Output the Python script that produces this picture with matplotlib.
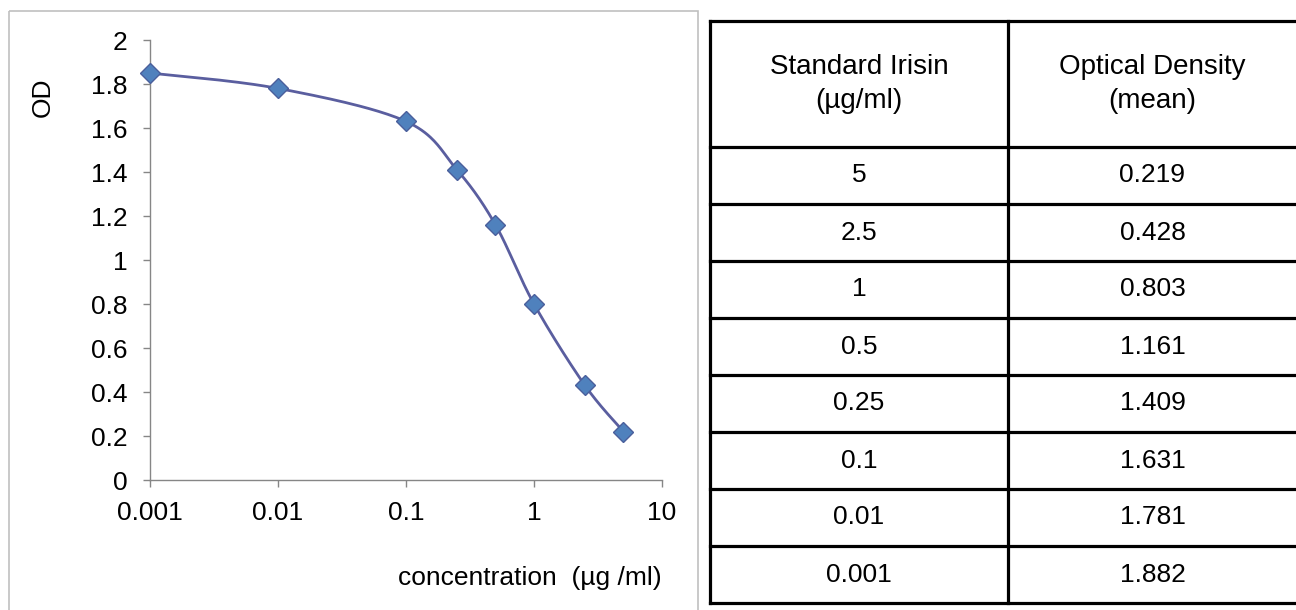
import numpy as np
import matplotlib
matplotlib.use("Agg")
import matplotlib.pyplot as plt
from matplotlib.patches import Rectangle

# standard curve as plotted
conc = [0.001, 0.01, 0.1, 0.25, 0.5, 1, 2.5, 5]
od = [1.85, 1.78, 1.63, 1.41, 1.16, 0.80, 0.43, 0.22]

# table next to the chart
header = ["Standard Irisin\n(µg/ml)", "Optical Density\n(mean)"]
table_conc = ["5", "2.5", "1", "0.5", "0.25", "0.1", "0.01", "0.001"]
table_od = ["0.219", "0.428", "0.803", "1.161", "1.409", "1.631", "1.781", "1.882"]

xticks = [0.001, 0.01, 0.1, 1, 10]
xticklabels = ["0.001", "0.01", "0.1", "1", "10"]
yticks = [0, 0.2, 0.4, 0.6, 0.8, 1, 1.2, 1.4, 1.6, 1.8, 2]
yticklabels = ["0", "0.2", "0.4", "0.6", "0.8", "1", "1.2", "1.4", "1.6", "1.8", "2"]

plt.rcParams["font.family"] = ["Liberation Sans", "DejaVu Sans"]

W, H = 1296, 610
AXIS_GRAY = "#868686"
FS = 19


def smooth(xs, ys, n=40):
    # excel style bezier smoothing, done in (log x, y) space
    pts = np.column_stack([np.log10(xs), ys])
    p = np.vstack([pts[0], pts, pts[-1]])
    t = np.linspace(0, 1, n)[:, None]
    segs = []
    for i in range(1, len(p) - 2):
        c1 = p[i] + (p[i + 1] - p[i - 1]) / 6
        c2 = p[i + 1] - (p[i + 2] - p[i]) / 6
        seg = (1 - t) ** 3 * p[i] + 3 * (1 - t) ** 2 * t * c1 + 3 * (1 - t) * t ** 2 * c2 + t ** 3 * p[i + 1]
        segs.append(seg)
    s = np.vstack(segs)
    return 10 ** s[:, 0], s[:, 1]


def px(x0, y0, x1, y1):
    # pixel box (top-left origin) -> figure fraction rect
    return [x0 / W, 1 - y1 / H, (x1 - x0) / W, (y1 - y0) / H]


fig = plt.figure(figsize=(W / 100, H / 100), dpi=100)

# overlay for frame + table, in pixel units
over = fig.add_axes([0, 0, 1, 1])
over.set_xlim(0, W)
over.set_ylim(H, 0)
over.axis("off")

over.add_patch(Rectangle((9, 11), 689, 640, fill=False, edgecolor="#c0c0c0", linewidth=1.2))

# table
tab_left, tab_mid, tab_right = 710, 1008, 1300
tab_top, head_bot, row_h = 21, 147, 57
n_rows = len(table_conc)
tab_bot = head_bot + row_h * n_rows
lw = 2.3
over.plot([tab_left, tab_left], [tab_top, tab_bot], color="black", lw=lw, solid_capstyle="projecting")
over.plot([tab_mid, tab_mid], [tab_top, tab_bot], color="black", lw=lw)
over.plot([tab_right, tab_right], [tab_top, tab_bot], color="black", lw=lw)
over.plot([tab_left, tab_right], [tab_top, tab_top], color="black", lw=lw, solid_capstyle="projecting")
for i in range(n_rows + 1):
    y = head_bot + row_h * i
    over.plot([tab_left, tab_right], [y, y], color="black", lw=lw, solid_capstyle="projecting")

c1 = (tab_left + tab_mid) / 2
c2 = (tab_mid + 1297) / 2
hy = 84
over.text(c1, hy, header[0], ha="center", va="center", fontsize=20, linespacing=1.38)
over.text(c2, hy, header[1], ha="center", va="center", fontsize=20, linespacing=1.38)
for i in range(n_rows):
    y = head_bot + row_h * (i + 0.5)
    over.text(c1, y, table_conc[i], ha="center", va="center", fontsize=FS)
    over.text(c2, y, table_od[i], ha="center", va="center", fontsize=FS)

# chart
ax = fig.add_axes(px(150, 40, 662, 480))
sx, sy = smooth(conc, od)
ax.plot(sx, sy, color="#5a5e9f", linewidth=2.0, zorder=2)
ax.plot(conc, od, linestyle="none", marker="D", markersize=10, clip_on=False,
        markerfacecolor="#4f81bd", markeredgecolor="#4a5f9c", markeredgewidth=1.0, zorder=3)

ax.set_xscale("log")
ax.set_xlim(0.001, 10)
ax.set_ylim(0, 2)
ax.set_xticks(xticks)
ax.set_xticklabels(xticklabels)
ax.set_yticks(yticks)
ax.set_yticklabels(yticklabels)
ax.minorticks_off()
for s in ["top", "right"]:
    ax.spines[s].set_visible(False)
for s in ["left", "bottom"]:
    ax.spines[s].set_color(AXIS_GRAY)
    ax.spines[s].set_linewidth(1.0)
ax.tick_params(axis="both", direction="out", length=5, width=1.0, color=AXIS_GRAY,
               labelsize=FS, pad=10)
ax.tick_params(axis="y", pad=11)
ax.patch.set_alpha(0)

fig.text(43 / W, 1 - 97 / H, "OD", rotation=90, ha="center", va="center", fontsize=FS)
fig.text(530 / W, 1 - 578 / H, "concentration  (µg /ml)", ha="center", va="center", fontsize=FS)

fig.savefig("out.png", dpi=100)
